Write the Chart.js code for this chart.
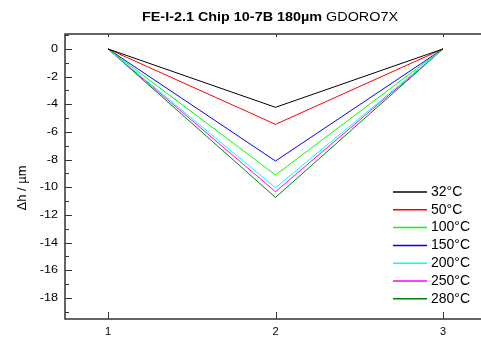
<!DOCTYPE html>
<html>
<head>
<meta charset="utf-8">
<script src="https://cdn.jsdelivr.net/npm/chart.js@4.4.1/dist/chart.umd.min.js"></script>
<style>
  html, body { margin: 0; padding: 0; background: #fff; }
  #wrap { width: 481px; height: 339px; position: relative; }
</style>
</head>
<body>
<div id="wrap"><canvas id="chart"></canvas></div>
<script>
// --- datos ---
const xPos = [1, 2, 3];
const seriesLabels = ['32°C', '50°C', '100°C', '150°C', '200°C', '250°C', '280°C'];
const seriesColors = ['#000000', '#ff0000', '#00ff00', '#0000ff', '#00ffff', '#ff00ff', '#008000'];
const h32 = [0, -4.22, 0];
const h50 = [0, -5.45, 0];
const h100 = [0, -9.11, 0];
const h150 = [0, -8.1, 0];
const h200 = [0, -10.03, 0];
const h250 = [0, -10.32, 0];
const h280 = [0, -10.73, 0];
const yTicks = [0, -2, -4, -6, -8, -10, -12, -14, -16, -18];
const yMinor = [1, -1, -3, -5, -7, -9, -11, -13, -15, -17, -19];
const xTicks = [1, 2, 3];

const FONT = "'Liberation Sans', Arial, sans-serif";
const allSeries = [h32, h50, h100, h150, h200, h250, h280];

const datasets = allSeries.map((vals, i) => ({
    label: seriesLabels[i],
    data: vals.map((v, j) => ({ x: xPos[j], y: v })),
    borderColor: seriesColors[i],
    backgroundColor: seriesColors[i],
    borderWidth: 1,
    pointRadius: 0,
    tension: 0
}));

// --- marco, ticks hacia adentro, titulo, leyenda ---
const decor = {
    id: 'decor',
    afterDraw(chart) {
        const { ctx, chartArea: a, scales: { x, y } } = chart;
        ctx.save();
        ctx.strokeStyle = '#333';
        ctx.lineWidth = 1.5;
        ctx.beginPath();
        ctx.moveTo(a.right, a.top); ctx.lineTo(a.left, a.top);
        ctx.lineTo(a.left, a.bottom); ctx.lineTo(a.right, a.bottom);
        ctx.stroke();

        ctx.lineWidth = 1;
        ctx.beginPath();
        yTicks.forEach(v => { const p = Math.round(y.getPixelForValue(v)) + 0.5; ctx.moveTo(a.left, p); ctx.lineTo(a.left + 7, p); });
        yMinor.forEach(v => { const p = Math.round(y.getPixelForValue(v)) + 0.5; ctx.moveTo(a.left, p); ctx.lineTo(a.left + 4, p); });
        xTicks.forEach(v => {
            const p = Math.round(x.getPixelForValue(v)) + 0.5;
            ctx.moveTo(p, a.bottom); ctx.lineTo(p, a.bottom - 7);
            ctx.moveTo(p, a.top); ctx.lineTo(p, a.top + 3);
        });
        ctx.stroke();

        // etiquetas del eje Y (un poco ensanchadas como en el original)
        ctx.fillStyle = '#000';
        ctx.font = '11px ' + FONT;
        ctx.textAlign = 'right';
        ctx.textBaseline = 'middle';
        y.ticks.forEach(t => {
            ctx.save();
            ctx.translate(a.left - 7, y.getPixelForValue(t.value));
            ctx.scale(1.15, 1);
            ctx.fillText(String(t.value), 0, 0);
            ctx.restore();
        });

        // titulo (parte en negrita + parte normal)
        const t1 = 'FE-I-2.1 Chip 10-7B 180µm ', t2 = 'GDORO7X';
        ctx.textBaseline = 'alphabetic';
        ctx.textAlign = 'left';
        ctx.font = 'bold 13px ' + FONT;
        const w1 = ctx.measureText(t1).width;
        ctx.font = '13px ' + FONT;
        const w2 = ctx.measureText(t2).width;
        const sx = 256 / (w1 + w2);
        ctx.save();
        ctx.translate(142, 21);
        ctx.scale(sx, 1);
        ctx.font = 'bold 13px ' + FONT;
        ctx.fillText(t1, 0, 0);
        ctx.font = '13px ' + FONT;
        ctx.fillText(t2, w1, 0);
        ctx.restore();

        // titulo eje Y
        ctx.save();
        ctx.translate(22, 188);
        ctx.rotate(-Math.PI / 2);
        ctx.textAlign = 'center';
        ctx.textBaseline = 'middle';
        ctx.font = '13px ' + FONT;
        ctx.fillText('Δh / µm', 0, 0);
        ctx.restore();

        // leyenda
        ctx.font = '14px ' + FONT;
        ctx.textAlign = 'left';
        ctx.textBaseline = 'middle';
        chart.data.datasets.forEach((ds, i) => {
            const ly = 192 + i * 17.8;
            ctx.strokeStyle = ds.borderColor;
            ctx.lineWidth = 1.5;
            ctx.beginPath();
            ctx.moveTo(393, ly); ctx.lineTo(427, ly);
            ctx.stroke();
            ctx.fillStyle = '#000';
            ctx.fillText(ds.label, 431, ly);
        });
        ctx.restore();
    }
};

new Chart(document.getElementById('chart'), {
    type: 'line',
    data: { datasets },
    options: {
        responsive: true,
        maintainAspectRatio: false,
        animation: false,
        layout: { padding: { top: 34, right: 0, bottom: 0, left: 0 } },
        plugins: { legend: { display: false }, title: { display: false }, tooltip: { enabled: false } },
        scales: {
            x: {
                type: 'linear',
                min: 0.743,
                max: 3.227,
                grid: { display: false, drawTicks: false },
                border: { display: false },
                afterBuildTicks: s => { s.ticks = xTicks.map(v => ({ value: v })); },
                afterFit: s => { s.height = 20; },
                ticks: { color: '#000', padding: 6, maxRotation: 0, font: { family: FONT, size: 11 } }
            },
            y: {
                min: -19.52,
                max: 1.08,
                grid: { display: false, drawTicks: false },
                border: { display: false },
                afterBuildTicks: s => { s.ticks = yTicks.map(v => ({ value: v })); },
                afterFit: s => { s.width = 65; },
                ticks: { display: false }
            }
        }
    },
    plugins: [decor]
});
</script>
</body>
</html>
